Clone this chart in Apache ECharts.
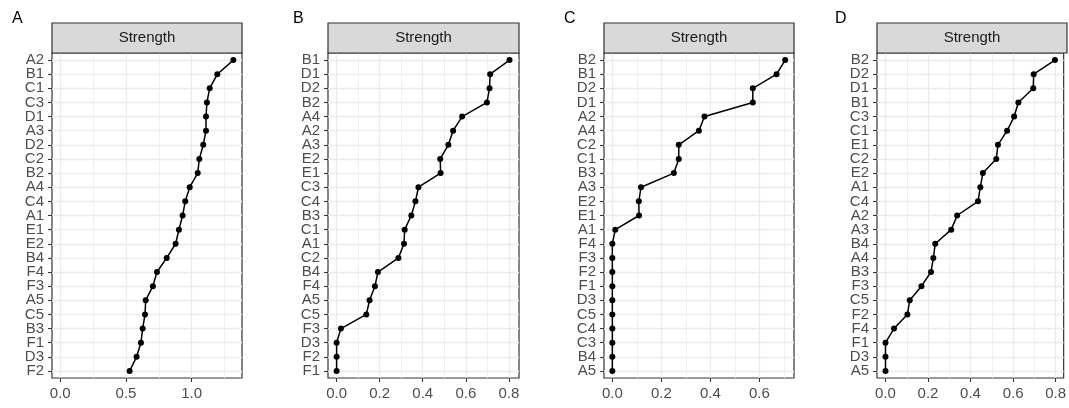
<!DOCTYPE html>
<html><head><meta charset="utf-8">
<script src="https://cdn.jsdelivr.net/npm/echarts@6/dist/echarts.min.js"></script>
<style>html,body{margin:0;padding:0;background:#fff}#c{width:1069px;height:408px}</style>
</head><body><div id="c"></div><script>
// Panel A
const catsA = ['A2','B1','C1','C3','D1','A3','D2','C2','B2','A4','C4','A1','E1','E2','B4','F4','F3','A5','C5','B3','F1','D3','F2'];
const valsA = [1.317,1.195,1.137,1.116,1.109,1.109,1.088,1.058,1.046,0.985,0.951,0.931,0.903,0.878,0.810,0.736,0.705,0.650,0.645,0.627,0.614,0.581,0.528];
// Panel B
const catsB = ['B1','D1','D2','B2','A4','A2','A3','E2','E1','C3','C4','B3','C1','A1','C2','B4','F4','A5','C5','F3','D3','F2','F1'];
const valsB = [0.803,0.713,0.710,0.698,0.583,0.541,0.519,0.481,0.483,0.380,0.366,0.347,0.316,0.313,0.287,0.192,0.178,0.153,0.138,0.020,0,0,0];
// Panel C
const catsC = ['B2','B1','D2','D1','A2','A4','C2','C1','B3','A3','E2','E1','A1','F4','F3','F2','F1','D3','C5','C4','C3','B4','A5'];
const valsC = [0.705,0.670,0.573,0.573,0.376,0.353,0.271,0.271,0.251,0.117,0.108,0.109,0.012,0,0,0,0,0,0,0,0,0,0];
// Panel D
const catsD = ['B2','D2','D1','B1','C3','C1','E1','C2','E2','A1','C4','A2','A3','B4','A4','B3','F3','C5','F2','F4','F1','D3','A5'];
const valsD = [0.797,0.697,0.695,0.625,0.605,0.572,0.529,0.521,0.458,0.446,0.435,0.337,0.309,0.234,0.225,0.214,0.169,0.114,0.103,0.040,0,0,0];

// tick values / labels
const ticksA = [0, 0.5, 1.0];            const tickLabelsA = ['0.0','0.5','1.0'];
const minorA = [0.25, 0.75, 1.25];
const ticksB = [0, 0.2, 0.4, 0.6, 0.8];  const tickLabelsB = ['0.0','0.2','0.4','0.6','0.8'];
const minorB = [0.1, 0.3, 0.5, 0.7];
const ticksC = [0, 0.2, 0.4, 0.6];       const tickLabelsC = ['0.0','0.2','0.4','0.6'];
const minorC = [0.1, 0.3, 0.5, 0.7];
const ticksD = [0, 0.2, 0.4, 0.6, 0.8];  const tickLabelsD = ['0.0','0.2','0.4','0.6','0.8'];
const minorD = [0.1, 0.3, 0.5, 0.7];

const panelNames = ['A','B','C','D'];
const stripLabel = 'Strength';

const panels = [
  {cats: catsA, vals: valsA, ticks: ticksA, labels: tickLabelsA, minor: minorA, min: -0.063, max: 1.383, left: 52, width: 190, tagX: 12},
  {cats: catsB, vals: valsB, ticks: ticksB, labels: tickLabelsB, minor: minorB, min: -0.040, max: 0.847, left: 328, width: 191, tagX: 293},
  {cats: catsC, vals: valsC, ticks: ticksC, labels: tickLabelsC, minor: minorC, min: -0.034, max: 0.741, left: 604, width: 190, tagX: 564},
  {cats: catsD, vals: valsD, ticks: ticksD, labels: tickLabelsD, minor: minorD, min: -0.040, max: 0.838, left: 877, width: 190, tagX: 835}
];

const TOP = 53, H = 325, STRIP_TOP = 23, STRIP_H = 30;
const FONT = 'Liberation Sans, Arial, sans-serif';
const grid = [], xAxis = [], yAxis = [], series = [], graphic = [];

panels.forEach((p, i) => {
  grid.push({left: p.left, top: TOP, width: p.width, height: H, show: true,
    borderColor: '#333333', borderWidth: 1.2, backgroundColor: 'transparent', containLabel: false});
  xAxis.push({
    type: 'value', gridIndex: i, position: 'bottom', min: p.min, max: p.max,
    axisLine: {show: false, onZero: false},
    axisTick: {show: true, inside: false, length: 4, customValues: p.ticks, lineStyle: {color: '#333333', width: 1.1}},
    axisLabel: {customValues: p.ticks, color: '#4d4d4d', fontSize: 15, fontFamily: FONT, margin: 8,
      formatter: v => { const k = p.ticks.findIndex(t => Math.abs(t - v) < 1e-9); return k >= 0 ? p.labels[k] : ''; }},
    splitLine: {show: true, lineStyle: {color: '#ebebeb', width: 1.3}}
  });
  xAxis.push({
    type: 'value', gridIndex: i, position: 'top', min: p.min, max: p.max,
    axisLine: {show: false, onZero: false},
    axisTick: {show: false, customValues: p.minor},
    axisLabel: {show: false},
    splitLine: {show: true, lineStyle: {color: '#efefef', width: 1}}
  });
  yAxis.push({
    type: 'category', gridIndex: i, position: 'left', data: p.cats, inverse: true, boundaryGap: true,
    axisLine: {show: false, onZero: false},
    axisTick: {show: true, inside: false, length: 4, alignWithLabel: true, interval: 0, lineStyle: {color: '#333333', width: 1.1}},
    axisLabel: {interval: 0, color: '#4d4d4d', fontSize: 15, fontFamily: FONT, margin: 8, lineHeight: 14},
    splitLine: {show: true, interval: 0, alignWithLabel: true, lineStyle: {color: '#ebebeb', width: 1.3}}
  });
  series.push({
    type: 'line', xAxisIndex: 2 * i, yAxisIndex: i,
    data: p.vals.map((v, k) => [v, p.cats[k]]),
    symbol: 'circle', symbolSize: 6, showSymbol: true,
    lineStyle: {color: '#000', width: 1.5}, itemStyle: {color: '#000'},
    silent: true, animation: false, z: 5
  });
  graphic.push({type: 'rect', shape: {x: p.left, y: STRIP_TOP, width: p.width, height: STRIP_H},
    style: {fill: '#d9d9d9', stroke: '#333333', lineWidth: 1.2}, z: 10});
  graphic.push({type: 'text', x: p.left + p.width / 2, y: STRIP_TOP + STRIP_H / 2,
    style: {text: stripLabel, fill: '#1a1a1a', font: '15px ' + FONT, textAlign: 'center', textVerticalAlign: 'middle'}, z: 11});
  graphic.push({type: 'text', x: p.tagX, y: 18.5,
    style: {text: panelNames[i], fill: '#000', font: '16px ' + FONT, textAlign: 'left', textVerticalAlign: 'middle'}, z: 11});
});

const chart = echarts.init(document.getElementById('c'), null, {renderer: 'canvas'});
chart.setOption({animation: false, backgroundColor: '#fff', grid, xAxis, yAxis, series, graphic});
</script></body></html>
